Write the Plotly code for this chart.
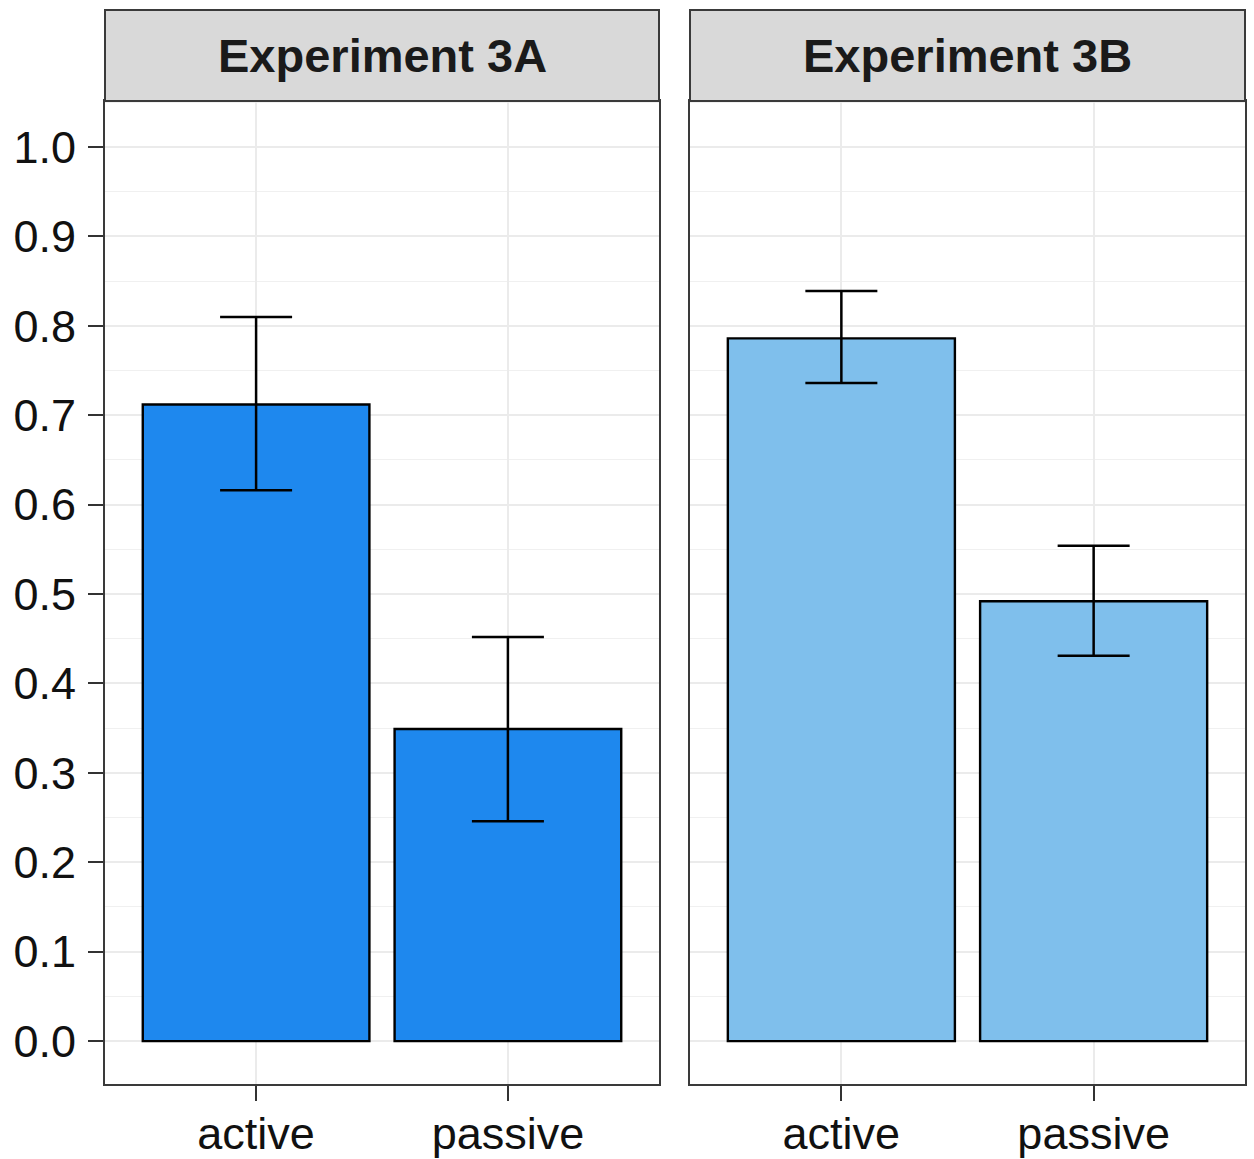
import plotly.graph_objects as go

categories = ["active", "passive"]
panels = ["Experiment 3A", "Experiment 3B"]
means_3a = [0.712, 0.349]
upper_3a = [0.810, 0.452]
lower_3a = [0.616, 0.246]
means_3b = [0.786, 0.492]
upper_3b = [0.839, 0.554]
lower_3b = [0.736, 0.431]
colors = ["#1E88EE", "#7FBFEC"]
y_ticks = [0.0, 0.1, 0.2, 0.3, 0.4, 0.5, 0.6, 0.7, 0.8, 0.9, 1.0]

W, H = 1254, 1159
def px_x(p): return p / W
def px_y(p): return (H - p) / H

fig = go.Figure()
series = [(means_3a, upper_3a, lower_3a), (means_3b, upper_3b, lower_3b)]
for i, (m, u, l) in enumerate(series):
    ax = "" if i == 0 else "2"
    fig.add_trace(go.Bar(
        x=categories, y=m, width=0.9,
        marker=dict(color=colors[i], line=dict(color="black", width=2.4)),
        error_y=dict(type="data", symmetric=False,
                     array=[a - b for a, b in zip(u, m)],
                     arrayminus=[b - c for b, c in zip(m, l)],
                     color="black", thickness=2.5, width=36),
        xaxis="x" + ax, yaxis="y" + ax, showlegend=False,
    ))

ydom = [px_y(1084), px_y(101)]
xd1 = [px_x(105), px_x(659)]
xd2 = [px_x(690), px_x(1245)]

common_x = dict(type="category", range=[-0.6, 1.6], showgrid=True, gridcolor="#EBEBEB",
                gridwidth=2, ticks="outside", ticklen=15, tickwidth=2.2, tickcolor="#333333",
                showline=True, mirror=True, linecolor="#3A3A3A", linewidth=2,
                ticklabelstandoff=-6,
                tickfont=dict(family="Liberation Sans, Arial", size=45, color="#111111"),
                automargin=False, zeroline=False, fixedrange=True)
common_y = dict(range=[-0.048, 1.0515], tickvals=y_ticks,
                ticktext=[f"{v:.1f}" for v in y_ticks], showgrid=True,
                gridcolor="#EBEBEB", gridwidth=2,
                minor=dict(tick0=0.05, dtick=0.1, showgrid=True, gridcolor="#F0F0F0", gridwidth=1.4),
                showline=True, mirror=True, linecolor="#3A3A3A", linewidth=2,
                zeroline=False, automargin=False, fixedrange=True)

fig.update_layout(
    width=W, height=H, autosize=False,
    margin=dict(l=0, r=0, t=0, b=0),
    paper_bgcolor="white", plot_bgcolor="white",
    xaxis=dict(domain=xd1, anchor="y", **common_x),
    xaxis2=dict(domain=xd2, anchor="y2", **common_x),
    yaxis=dict(domain=ydom, anchor="x", ticks="outside", ticklen=15, tickwidth=2.2,
               tickcolor="#333333", ticklabelstandoff=3,
               tickfont=dict(family="Liberation Sans, Arial", size=45, color="#111111"),
               **common_y),
    yaxis2=dict(domain=ydom, anchor="x2", matches="y", showticklabels=False, ticks="",
                **common_y),
    bargap=0.1,
)

for i, xd in enumerate([xd1, xd2]):
    fig.add_shape(type="rect", xref="paper", yref="paper",
                  x0=xd[0], x1=xd[1], y0=px_y(101), y1=px_y(10),
                  fillcolor="#D9D9D9", line=dict(color="#3A3A3A", width=2))
    fig.add_annotation(text="<b>" + panels[i] + "</b>", xref="paper", yref="paper",
                       x=(xd[0] + xd[1]) / 2, y=(px_y(101) + px_y(10)) / 2,
                       showarrow=False, xanchor="center", yanchor="middle",
                       font=dict(family="Liberation Sans, Arial", size=47, color="#1A1A1A"))

fig.write_html("out.html", config={"displayModeBar": False},
               post_script="document.body.style.margin='0px';document.body.style.overflow='hidden';")
